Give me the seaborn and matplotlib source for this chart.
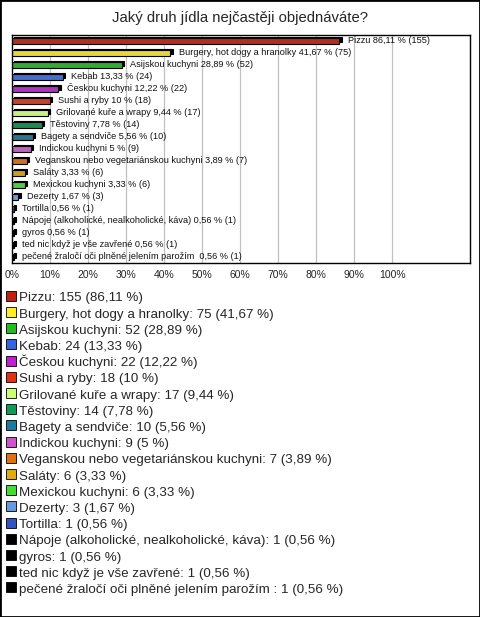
import matplotlib
matplotlib.use("Agg")
import matplotlib.pyplot as plt
import matplotlib.transforms as mtransforms
from matplotlib.patches import Rectangle
from matplotlib.lines import Line2D
import seaborn as sns
import pandas as pd

categories = [
    "Pizzu", "Burgery, hot dogy a hranolky", "Asijskou kuchyni", "Kebab",
    "Českou kuchyni", "Sushi a ryby", "Grilované kuře a wrapy", "Těstoviny",
    "Bagety a sendviče", "Indickou kuchyni",
    "Veganskou nebo vegetariánskou kuchyni", "Saláty", "Mexickou kuchyni",
    "Dezerty", "Tortilla", "Nápoje (alkoholické, nealkoholické, káva)",
    "gyros", "ted nic když je vše zavřené",
    "pečené žraločí oči plněné jelením parožím ",
]
counts = [155, 75, 52, 24, 22, 18, 17, 14, 10, 9, 7, 6, 6, 3, 1, 1, 1, 1, 1]
percents = [86.11, 41.67, 28.89, 13.33, 12.22, 10, 9.44, 7.78, 5.56, 5,
            3.89, 3.33, 3.33, 1.67, 0.56, 0.56, 0.56, 0.56, 0.56]
colors = ["#c0200f", "#ffee22", "#22bb22", "#3366dd", "#bb22cc", "#dd3311",
          "#ccff77", "#119955", "#1f7a99", "#cc55cc", "#e07010", "#e0aa10",
          "#44dd33", "#6699dd", "#3355bb", "#000000", "#000000", "#000000",
          "#000000"]
xticks = [0, 10, 20, 30, 40, 50, 60, 70, 80, 90, 100]


def fmt(p):
    return f"{p:g}".replace(".", ",")


df = pd.DataFrame({"cat": categories, "pct": percents, "count": counts})

sns.set_theme(style="white")
plt.rcParams["font.family"] = ["Liberation Sans", "DejaVu Sans"]

fig = plt.figure(figsize=(4.8, 6.17), dpi=100)
ax = fig.add_axes([12 / 480, 1 - 263 / 617, 458 / 480, 228 / 617])

# shadow layer (3D depth)
sns.barplot(data=df, y="cat", x="pct", hue="cat", palette=["#000000"] * len(df),
            orient="h", width=0.45, legend=False, ax=ax, dodge=False,
            edgecolor="black", linewidth=0.8)
off = mtransforms.ScaledTranslation(1.6 / 72, 1.2 / 72, fig.dpi_scale_trans)
for p in list(ax.patches):
    p.set_transform(ax.transData + off)

sns.barplot(data=df, y="cat", x="pct", hue="cat", palette=colors,
            orient="h", width=0.45, legend=False, ax=ax, dodge=False,
            edgecolor="black", linewidth=0.8)

for i, (c, p, n) in enumerate(zip(categories, percents, counts)):
    ax.annotate(f"{c} {fmt(p)} % ({n})", xy=(p, i), xytext=(6, 0.5),
                textcoords="offset points", va="center", ha="left",
                fontsize=6.6, color="#111111")

ax.set_xlim(0, 120.5)
ax.set_ylim(18.5, -0.5)
ax.set_xticks(xticks)
ax.set_xticklabels([f"{t}%" for t in xticks], fontsize=7.5)
ax.set_yticks([])
ax.set_xlabel("")
ax.set_ylabel("")
ax.tick_params(axis="x", length=0, pad=5)
for t in xticks[1:]:
    ax.axvline(t, color="#c0c0c0", lw=0.9, zorder=0)
ax.set_axisbelow(True)
for s in ax.spines.values():
    s.set_visible(True)
    s.set_color("black")
    s.set_linewidth(1.0)

fig.text(0.5, 1 - 18 / 617, "Jaký druh jídla nejčastěji objednáváte?",
         ha="center", va="center", fontsize=10.7)

handles = [Line2D([], [], linestyle="", marker="s", markersize=6.5,
                  markerfacecolor=col, markeredgecolor="black", markeredgewidth=0.6)
           for col in colors]
labels = [f"{c}: {n} ({fmt(p)} %)" for c, n, p in zip(categories, counts, percents)]
fig.legend(handles, labels, loc="upper left", bbox_to_anchor=(2 / 480, 1 - 286 / 617),
           frameon=False, fontsize=9.6, handlelength=0.7, handleheight=1.2,
           handletextpad=0.25, labelspacing=0.14, borderaxespad=0, borderpad=0.3)

fig.patches.append(Rectangle((0, 0), 1, 1, transform=fig.transFigure, fill=False,
                             edgecolor="black", linewidth=2, zorder=10))

fig.savefig("out.png", dpi=100)
